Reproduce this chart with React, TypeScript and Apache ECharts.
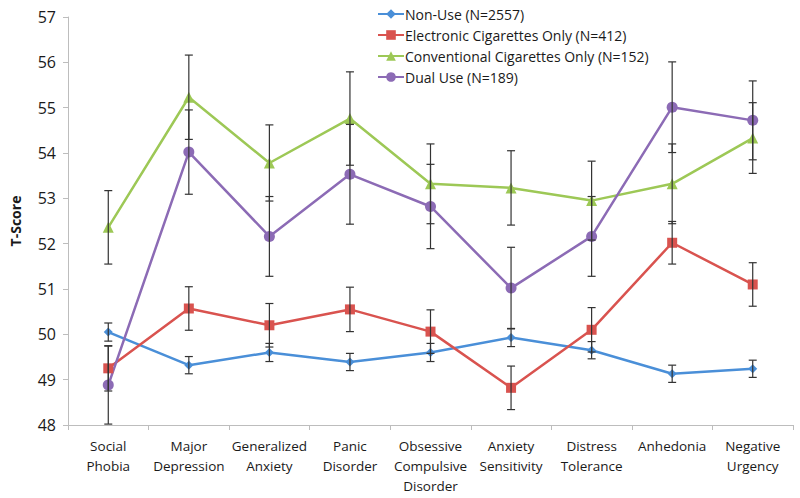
import React, { useEffect, useRef } from "react";
import * as echarts from "echarts";

const categories = [
  "Social\nPhobia",
  "Major\nDepression",
  "Generalized\nAnxiety",
  "Panic\nDisorder",
  "Obsessive\nCompulsive\nDisorder",
  "Anxiety\nSensitivity",
  "Distress\nTolerance",
  "Anhedonia",
  "Negative\nUrgency",
];

const seriesNames = [
  "Non-Use (N=2557)",
  "Electronic Cigarettes Only (N=412)",
  "Conventional Cigarettes Only (N=152)",
  "Dual Use (N=189)",
];

const nonUse = [50.05, 49.32, 49.6, 49.39, 49.6, 49.93, 49.65, 49.13, 49.24];
const nonUseErr = [0.2, 0.19, 0.2, 0.19, 0.2, 0.2, 0.19, 0.19, 0.19];
const eCig = [49.25, 50.57, 50.2, 50.55, 50.06, 48.82, 50.1, 52.02, 51.1];
const eCigErr = [0.5, 0.48, 0.48, 0.49, 0.48, 0.48, 0.49, 0.47, 0.48];
const conv = [52.36, 55.23, 53.78, 54.76, 53.32, 53.23, 52.95, 53.32, 54.33];
const convErr = [0.81, 0.93, 0.84, 1.03, 0.88, 0.82, 0.87, 0.88, 0.78];
const dual = [48.88, 54.02, 52.16, 53.53, 52.82, 51.02, 52.16, 55.01, 54.72];
const dualErr = [0.86, 0.93, 0.88, 1.1, 0.93, 0.9, 0.88, 1.0, 0.87];

const yTicks = { min: 48, max: 57, interval: 1 };

const colors = ["#4A8FD8", "#D9534F", "#9DC856", "#8C6BB5"];
const symbols = ["diamond", "rect", "triangle", "circle"];
const symbolSizes = [9, 10, 11, 11];

const FONT = "'Open Sans', sans-serif";

export default function App() {
  const ref = useRef<HTMLDivElement>(null);
  useEffect(() => {
    if (!ref.current) return;
    const chart = echarts.init(ref.current, null, { renderer: "svg" });
    const means = [nonUse, eCig, conv, dual];
    const errs = [nonUseErr, eCigErr, convErr, dualErr];

    const lineSeries = means.map((vals, i) => ({
      name: seriesNames[i],
      type: "line",
      data: vals,
      symbol: symbols[i],
      symbolSize: symbolSizes[i],
      showAllSymbol: true,
      lineStyle: { width: 2.5, color: colors[i] },
      itemStyle: { color: colors[i] },
      z: 3,
    }));

    const errSeries = means.map((vals, i) => ({
      type: "custom",
      name: seriesNames[i] + " err",
      data: vals.map((v, j) => [j, v - errs[i][j], v + errs[i][j]]),
      encode: { x: 0, y: [1, 2] },
      z: 4,
      silent: true,
      renderItem: (params: any, api: any) => {
        const x = api.value(0);
        const lo = api.coord([x, api.value(1)]);
        const hi = api.coord([x, api.value(2)]);
        const hw = 4;
        const style = { stroke: "#333333", lineWidth: 1.2 };
        return {
          type: "group",
          children: [
            { type: "line", shape: { x1: lo[0], y1: lo[1], x2: hi[0], y2: hi[1] }, style },
            { type: "line", shape: { x1: hi[0] - hw, y1: hi[1], x2: hi[0] + hw, y2: hi[1] }, style },
            { type: "line", shape: { x1: lo[0] - hw, y1: lo[1], x2: lo[0] + hw, y2: lo[1] }, style },
          ],
        };
      },
    }));

    chart.setOption({
      animation: false,
      backgroundColor: "#ffffff",
      textStyle: { fontFamily: FONT },
      grid: { left: 60, right: 7, top: 17, bottom: 73 },
      legend: {
        data: seriesNames,
        orient: "vertical",
        left: 372,
        top: 1,
        itemWidth: 26,
        itemHeight: 12,
        itemGap: 5,
        textStyle: {
          fontFamily: FONT,
          fontSize: 14,
          lineHeight: 16,
          color: "#1a1a1a",
          padding: [0, 0, 0, -4],
        },
      },
      xAxis: {
        type: "category",
        data: categories,
        boundaryGap: true,
        axisLine: { lineStyle: { color: "#bdbdbd", width: 1 } },
        axisTick: { show: true, length: 5, lineStyle: { color: "#bdbdbd" } },
        axisLabel: {
          interval: 0,
          color: "#1a1a1a",
          fontFamily: FONT,
          fontSize: 13.5,
          lineHeight: 20,
          margin: 11,
        },
      },
      yAxis: {
        type: "value",
        min: yTicks.min,
        max: yTicks.max,
        interval: yTicks.interval,
        name: "T-Score",
        nameLocation: "middle",
        nameGap: 46,
        nameTextStyle: { fontFamily: FONT, fontSize: 14, fontWeight: "bold", color: "#1a1a1a" },
        axisLine: { show: true, lineStyle: { color: "#bdbdbd", width: 1 } },
        axisTick: { show: true, length: 5, lineStyle: { color: "#bdbdbd" } },
        axisLabel: { color: "#1a1a1a", fontFamily: FONT, fontSize: 16, margin: 12 },
        splitLine: { show: false },
      },
      series: [...lineSeries, ...errSeries],
    });
    return () => chart.dispose();
  }, []);
  return <div ref={ref} style={{ width: 800, height: 498, position: "fixed", left: 0, top: 0 }} />;
}
